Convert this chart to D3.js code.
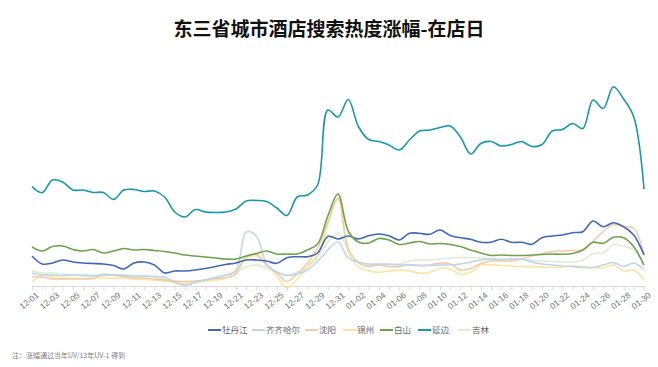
<!DOCTYPE html>
<html><head><meta charset="utf-8">
<script src="https://cdn.jsdelivr.net/npm/d3@7/dist/d3.min.js"></script>
<style>
html,body{margin:0;padding:0;background:#fff;}
svg{display:block;font-family:"Noto Sans CJK SC","Noto Sans",sans-serif;}
</style></head>
<body>
<svg id="c" width="658" height="367"></svg>
<script>
const dates = [];
for (let i = 1; i <= 31; i++) dates.push("12-" + String(i).padStart(2, "0"));
for (let i = 1; i <= 30; i++) dates.push("01-" + String(i).padStart(2, "0"));

const seriesNames = ["牡丹江","齐齐哈尔","沈阳","锦州","白山","延边","吉林"];
const seriesColors = ["#4467b4","#bcd5e9","#f3c9ab","#fbe39e","#6ca34c","#1a97a9","#dcecd6"];

const mudanjiang = [30,22,23,26,24,23,22.5,22,20.5,17,23,24,21,13,15,15,16,17.5,19.5,21.5,23,26,26,25,22.7,28.3,29.3,29.3,33,49.5,47,50,47,50.3,52,50.3,46,52.7,52.7,51.7,56,50.5,48.3,46.7,43.7,43.7,46.7,43.7,43.7,41.7,48.3,50,51,53.3,54.3,65,59.3,63.3,59.3,51,31];
const qiqihaer = [13,11,11,10.5,11,11,10.5,11,11,10.5,10,10,9.5,9,4,0.5,4,6,8.5,11,15,54,50,22,14,10.5,12,16,24.5,36,44,28,24,22,22,22,21,21,20.5,20.5,21,21,22,24,26,27,26,27,27,24,22,21,20,19.5,18.5,18.5,21,23.5,19.5,23,16];
const shenyang = [9.5,9,7,7,7,7,7.5,12,10.5,9.5,8,8,7,6,5,4.5,5,6,7.5,8.5,12,29,31.5,21,13,4.5,12,23,38,64,88,38,23,19.5,21,19.5,19.5,21.5,20.5,21,23,22,16,17.5,22.5,25,25,25,27,30,32.5,34.5,35,35.5,36,44.5,54.5,61.5,59.5,57.5,31];
const jinzhou = [4,11.5,9,8,7.5,7.5,8,8,7.5,8,7,6.5,6,5,3.5,2.5,3.5,5,6,8,16,28,30,21,10,-2,7,19.5,31,61,87,34,19.5,15,13.7,15,16,15,12.7,13.7,17.7,17,11.7,13.7,21,21,20.5,20,19.5,19.3,19,18.3,19,20,19.5,18.3,18.3,21,15,16,6];
const baishan = [39,35,39.5,40,36.5,35,36.5,33,35,37.5,36,36.5,35.5,34.5,33,31,30,29,28,27,27,30,32.5,35,32,32,32,36,42,70,92,55,44,43,47.5,46,41.5,43,44.5,42,42.5,41.5,39.5,36,33,30.5,31,30.5,30.5,31,31.5,32,31.7,32.5,36,43.7,42.7,48.7,48.3,39.3,21];
const yanbian = [99.3,93.3,106,104,96,96,93.5,93.5,86.5,96,96.5,94.5,95,89,74,69,76.5,74,73.5,74,77,85,85.5,84.5,78,70.5,89,91,101,176,169,186.5,159.5,146.5,144.5,141,136,146,155,156,158.5,160,149,132,142.5,144.5,140,141.5,144.5,139.5,141.5,155,156.5,162.5,157.5,186,177.5,199.3,187,169,97];
const jilin = [15,13,13,12,11,10,9.5,10,11,11,10.5,10,9,7,3,1,3,6,9,11,14,19,21,18,14,11,14,18.5,29,44,53,36,24,21,21,21.5,22,25,26,26,27,28,28.5,28.5,28,27.5,27,27,26.5,26,25,24.5,24,24,26,32.5,33,41.5,39.5,36,19.5];

const seriesValues = [mudanjiang, qiqihaer, shenyang, jinzhou, baishan, yanbian, jilin];

const titleText = "东三省城市酒店搜索热度涨幅-在店日";
const noteText = "注：涨幅通过当年UV/13年UV-1 得到";

const svg = d3.select("#c");
const x = d3.scalePoint().domain(dates).range([32, 644]);
const y = d3.scaleLinear().domain([0, 200]).range([286, 86]);

svg.append("text").attr("x", 329).attr("y", 36).attr("text-anchor", "middle")
  .attr("font-size", 19).attr("font-weight", "bold").attr("fill", "#111").text(titleText);

// axis
const ax = svg.append("g").attr("transform", "translate(0,286)")
  .call(d3.axisBottom(x).tickValues(dates).tickSize(4).tickSizeOuter(0)
    .tickFormat((d, i) => i % 2 === 0 ? d : ""));
ax.select(".domain").attr("stroke", "#d9d9d9");
ax.selectAll(".tick line").attr("stroke", "#d9d9d9");
ax.selectAll(".tick text").attr("font-size", 8.5).attr("fill", "#737373")
  .attr("text-anchor", "end").attr("transform", "rotate(-38)")
  .attr("dx", "-0.1em").attr("dy", "0.65em")
  .attr("font-family", "'Liberation Sans', Arial, sans-serif");

const line = d3.line().x((d, i) => x(dates[i])).y(d => y(d)).curve(d3.curveCatmullRom.alpha(0.5));

const drawOrder = [6, 3, 2, 1, 0, 4, 5];
drawOrder.forEach(k => {
  svg.append("path").datum(seriesValues[k]).attr("d", line)
    .attr("fill", "none").attr("stroke", seriesColors[k])
    .attr("stroke-width", (k === 0 || k === 4 || k === 5) ? 1.6 : 1.5);
});

// legend
const legendX = [208, 252, 305, 343, 380, 418, 458];
const lg = svg.append("g");
seriesNames.forEach((n, i) => {
  lg.append("line").attr("x1", legendX[i]).attr("x2", legendX[i] + 13)
    .attr("y1", 330).attr("y2", 330).attr("stroke", seriesColors[i]).attr("stroke-width", 2);
  lg.append("text").attr("x", legendX[i] + 14).attr("y", 333).attr("font-size", 8.5)
    .attr("fill", "#666").text(n);
});

svg.append("text").attr("x", 12).attr("y", 358).attr("font-size", 7)
  .attr("fill", "#7f7f7f").text(noteText);
</script>
</body></html>
